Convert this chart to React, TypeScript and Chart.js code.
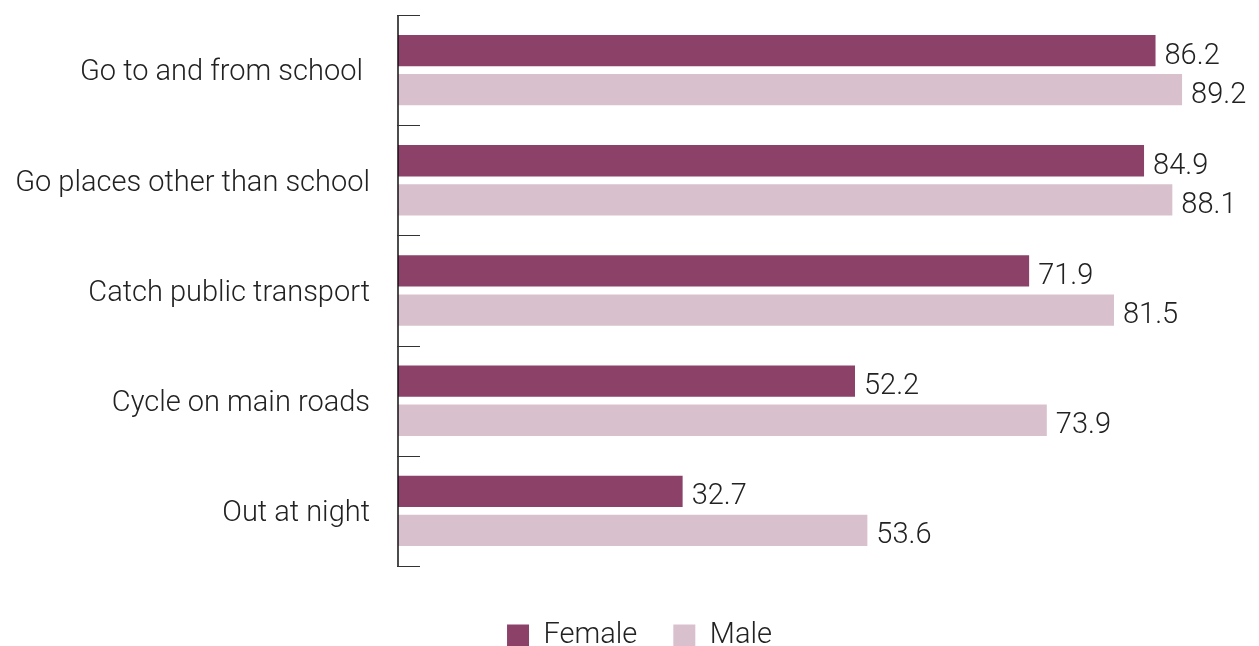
import React, { useEffect, useRef } from "react";
import { Chart, registerables } from "chart.js";

Chart.register(...registerables);

const categories = [
  "Go to and from school ",
  "Go places other than school",
  "Catch public transport",
  "Cycle on main roads",
  "Out at night",
];
const femaleValues = [86.2, 84.9, 71.9, 52.2, 32.7];
const maleValues = [89.2, 88.1, 81.5, 73.9, 53.6];
const seriesNames = ["Female", "Male"];

const FEMALE_COLOR = "#8b4168";
const MALE_COLOR = "#d9c0cd";
const FONT_FAMILY = "Roboto, 'Liberation Sans', Arial, sans-serif";
const TEXT_COLOR = "#222222";
const FONT_SIZE = 29;

const valueLabelPlugin = {
  id: "valueLabels",
  afterDatasetsDraw(chart: any) {
    const ctx = chart.ctx;
    ctx.save();
    ctx.font = `300 ${FONT_SIZE}px ${FONT_FAMILY}`;
    ctx.fillStyle = TEXT_COLOR;
    ctx.textAlign = "left";
    ctx.textBaseline = "alphabetic";
    chart.data.datasets.forEach((ds: any, di: number) => {
      const meta = chart.getDatasetMeta(di);
      meta.data.forEach((bar: any, i: number) => {
        ctx.fillText(ds.data[i].toFixed(1), bar.x + 9, bar.y + 13);
      });
    });
    ctx.restore();
  },
};

const legendShiftPlugin = {
  id: "legendShift",
  afterLayout(chart: any) {
    const lg = chart.legend;
    if (lg) {
      lg.left += 14;
      lg.right += 14;
    }
  },
};

const axisPlugin = {
  id: "innerTicks",
  afterDraw(chart: any) {
    const ctx = chart.ctx;
    const y = chart.scales.y;
    const area = chart.chartArea;
    const n = chart.data.labels.length;
    const step = n > 1 ? y.getPixelForValue(1) - y.getPixelForValue(0) : 0;
    ctx.save();
    ctx.strokeStyle = "#111111";
    ctx.lineWidth = 1.5;
    const x0 = area.left;
    ctx.beginPath();
    ctx.moveTo(x0, y.getPixelForValue(0) - step / 2);
    ctx.lineTo(x0, y.getPixelForValue(n - 1) + step / 2);
    ctx.stroke();
    ctx.lineWidth = 1;
    ctx.strokeStyle = "#333333";
    for (let i = 0; i <= n; i++) {
      const py = Math.round(y.getPixelForValue(i) - step / 2) + 0.5;
      ctx.beginPath();
      ctx.moveTo(x0 - 1, py);
      ctx.lineTo(x0 + 22, py);
      ctx.stroke();
    }
    ctx.restore();
  },
};

export default function App() {
  const canvasRef = useRef<HTMLCanvasElement | null>(null);

  useEffect(() => {
    document.body.style.margin = "0";
    const canvas = canvasRef.current;
    if (!canvas) return;
    const chart = new Chart(canvas, {
      type: "bar",
      data: {
        labels: categories,
        datasets: [
          {
            label: seriesNames[0],
            data: femaleValues,
            backgroundColor: FEMALE_COLOR,
            categoryPercentage: 0.71,
            barPercentage: 0.8,
          },
          {
            label: seriesNames[1],
            data: maleValues,
            backgroundColor: MALE_COLOR,
            categoryPercentage: 0.71,
            barPercentage: 0.8,
          },
        ],
      },
      options: {
        indexAxis: "y",
        animation: false,
        responsive: true,
        maintainAspectRatio: false,
        layout: { padding: { top: 15, right: 8, left: 0, bottom: -14 } },
        scales: {
          x: {
            display: true,
            min: 0.5,
            max: 97,
            grid: { display: false, drawTicks: false },
            border: { display: false },
            ticks: { display: false },
            afterFit(scale: any) {
              scale.height = 19;
            },
          },
          y: {
            grid: { display: false, drawTicks: false },
            border: { display: false },
            ticks: {
              padding: 28,
              labelOffset: 3,
              color: TEXT_COLOR,
              font: { family: FONT_FAMILY, size: FONT_SIZE, weight: "300" as any },
            },
            afterFit(scale: any) {
              scale.width = 398;
              scale.paddingTop = 0;
              scale.paddingBottom = 0;
            },
          },
        },
        plugins: {
          legend: {
            position: "bottom",
            labels: {
              boxWidth: 22,
              boxHeight: 22,
              padding: 36,
              color: TEXT_COLOR,
              font: { family: FONT_FAMILY, size: FONT_SIZE, weight: "300" as any },
            },
          },
          tooltip: { enabled: false },
        },
      },
      plugins: [valueLabelPlugin, axisPlugin, legendShiftPlugin],
    });
    return () => chart.destroy();
  }, []);

  return (
    <div style={{ position: "relative", width: "1259px", height: "646px" }}>
      <canvas ref={canvasRef} />
    </div>
  );
}
